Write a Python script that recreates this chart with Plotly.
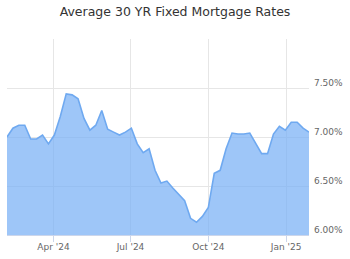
import pandas as pd
import plotly.graph_objects as go

start_date = "2024-02-06"
n_weeks = 52
rates = [
    7.00, 7.09, 7.12, 7.12, 6.98, 6.98, 7.02, 6.93, 7.02, 7.21,
    7.44, 7.43, 7.39, 7.19, 7.07, 7.12, 7.27, 7.08, 7.05, 7.02,
    7.05, 7.09, 6.93, 6.84, 6.88, 6.66, 6.53, 6.55, 6.48, 6.42,
    6.35, 6.17, 6.13, 6.19, 6.28, 6.63, 6.66, 6.88, 7.04, 7.03,
    7.03, 7.04, 6.93, 6.83, 6.83, 7.03, 7.11, 7.07, 7.15, 7.15,
    7.09, 7.05,
]
dates = pd.date_range(start_date, periods=n_weeks, freq="7D")

x_ticks = ["2024-04-01", "2024-07-01", "2024-10-01", "2025-01-01"]
y_ticks = [6.0, 6.5, 7.0, 7.5, 8.0]
y_ticktext = ["6.00%", "6.50%", "7.00%", "7.50%", ""]

FONT = "DejaVu Sans"

fig = go.Figure()
fig.add_trace(go.Scatter(
    x=dates, y=rates, mode="lines",
    line=dict(color="#6fa9f0", width=1.6),
    fill="tozeroy", fillcolor="rgba(120,176,245,0.72)",
    hoverinfo="skip",
))

fig.update_layout(
    width=350, height=259,
    margin=dict(l=7, r=38, t=39, b=24),
    paper_bgcolor="white", plot_bgcolor="white",
    showlegend=False,
    title=dict(
        text="Average 30 YR Fixed Mortgage Rates",
        x=0.5, xanchor="center", xref="container",
        y=1 - 12 / 259, yanchor="middle", yref="container",
        font=dict(family=FONT, size=12.5, color="#333333"),
    ),
    xaxis=dict(
        range=[dates[0], dates[-1]],
        tickvals=x_ticks, tickformat="%b '%y",
        showgrid=True, gridcolor="#e6e6e6", gridwidth=1,
        ticks="outside", ticklen=6, tickcolor="#ccd6eb",
        showline=True, linecolor="#ccd6eb", linewidth=1,
        tickfont=dict(family=FONT, size=9, color="#666666"),
        ticklabelstandoff=-3,
        zeroline=False,
    ),
    yaxis=dict(
        range=[6.0, 8.0], side="right",
        tickvals=y_ticks, ticktext=y_ticktext,
        showgrid=True, gridcolor="#e6e6e6", gridwidth=1,
        ticks="", showline=False, zeroline=False,
        tickfont=dict(family=FONT, size=9, color="#666666"),
        ticklabelshift=-5, ticklabelstandoff=4,
    ),
)

fig.write_html("out.html")
